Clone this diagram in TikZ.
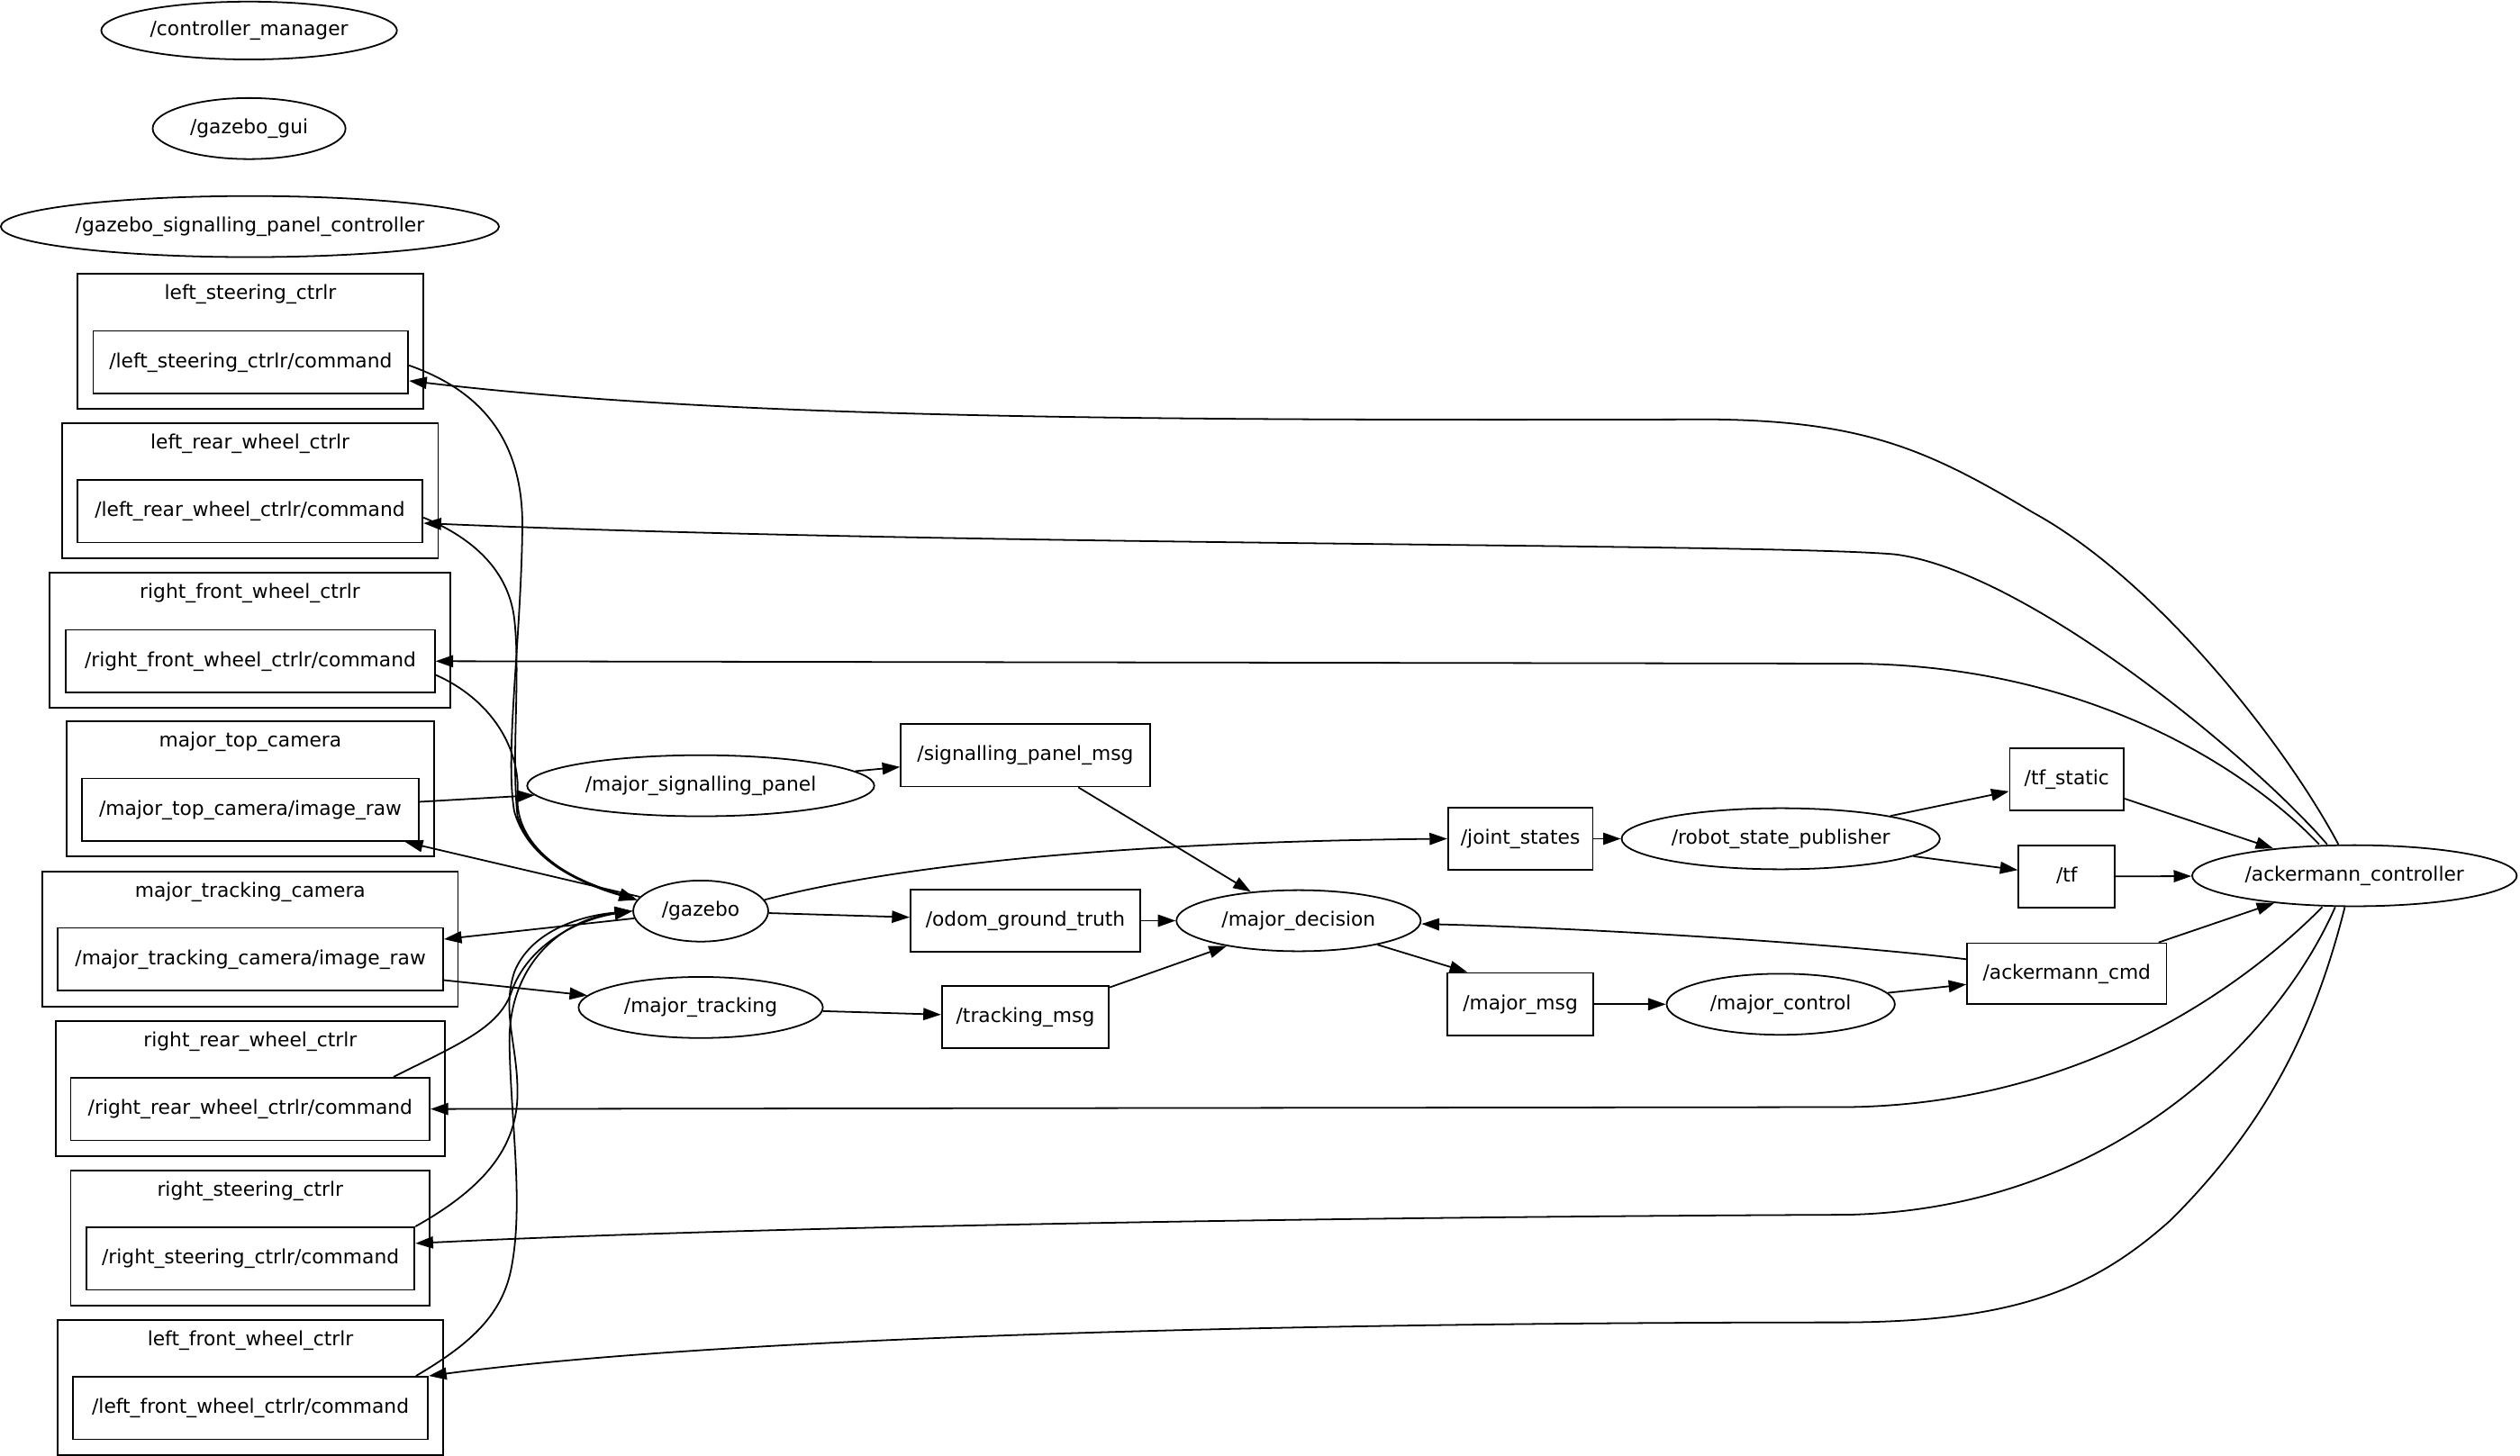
\documentclass[tikz,border=0pt]{standalone}
\usepackage{fontspec}
\setmainfont{DejaVu Sans}
\usepackage{tikz}
\usetikzlibrary{shapes, arrows.meta}
\tikzstyle{topic} = [rectangle, minimum height = 39, draw = black,
  line width = 1pt, inner sep = 0, text height = 9.3pt, text depth = 2.5pt,
  text centered]
\tikzstyle{rnode} = [
  ellipse, minimum height = 38, draw = black, line width = 1pt,
  inner sep = 0, text height = 9.3pt, text depth = 2.5pt
]
\tikzstyle{grp} = [rectangle, minimum height = 84, draw = black,
  line width = 1pt, inner sep = 0]
\tikzstyle{grplabel} = [anchor = north, inner sep = 0, yshift = -6.5pt,
  text height = 9.3pt, text depth = 2.5pt]

\begin{document}
\begin{tikzpicture}[x = 1pt, y = -1pt, line width = 1pt,
    >={Triangle[length = 11pt, width = 7.5pt]},
    font = \fontsize{12.2}{14}\selectfont]
    \useasboundingbox (0, 0) rectangle (1568, 906);
    \node [rnode, minimum width = 184, minimum height = 36] (ctrl-mgr) at (155, 19) {/controller\_manager};
    \node [rnode, minimum width = 120] (gz-gui) at (155, 80) {/gazebo\_gui};
    \node [rnode, minimum width = 310] (gz-spc) at (155.5, 141) {/gazebo\_signalling\_panel\_controller};
    \node [grp, minimum width = 215, label = {[grplabel]north:left\_steering\_ctrlr}] (grp-ls) at (155.8, 212.3) {};
    \node [topic, minimum width = 196] (cmd-ls) at (156, 225.4) {/left\_steering\_ctrlr/command};
    \node [grp, minimum width = 234, label = {[grplabel]north:left\_rear\_wheel\_ctrlr}] (grp-lr) at (155.6, 305.3) {};
    \node [topic, minimum width = 215] (cmd-lr) at (155.5, 318.1) {/left\_rear\_wheel\_ctrlr/command};
    \node [grp, minimum width = 249, label = {[grplabel]north:right\_front\_wheel\_ctrlr}] (grp-rf) at (155.5, 398.3) {};
    \node [topic, minimum width = 229.5] (cmd-rf) at (155.75, 411.5) {/right\_front\_wheel\_ctrlr/command};
    \node [grp, minimum width = 228.5, label = {[grplabel]north:major\_top\_camera}] (grp-mtc) at (155.75, 491) {};
    \node [topic, minimum width = 209.6] (cmd-mtc) at (155.8, 504) {/major\_top\_camera/image\_raw};
    \node [grp, minimum width = 258.6, label = {[grplabel]north:major\_tracking\_camera}] (grp-mtrc) at (155.7, 584.4) {};
    \node [topic, minimum width = 239.7] (cmd-mtrc) at (155.85, 597) {/major\_tracking\_camera/image\_raw};
    \node [grp, minimum width = 242, label = {[grplabel]north:right\_rear\_wheel\_ctrlr}] (grp-rr) at (155.7, 677.5) {};
    \node [topic, minimum width = 223.4] (cmd-rr) at (155.7, 690.2) {/right\_rear\_wheel\_ctrlr/command};
    \node [grp, minimum width = 223.4, label = {[grplabel]north:right\_steering\_ctrlr}] (grp-rs) at (155.7, 770.4) {};
    \node [topic, minimum width = 204.3] (cmd-rs) at (155.85, 783.3) {/right\_steering\_ctrlr/command};
    \node [grp, minimum width = 239.7, label = {[grplabel]north:left\_front\_wheel\_ctrlr}] (grp-lf) at (155.85, 863.5) {};
    \node [topic, minimum width = 221] (cmd-lf) at (155.85, 876.3) {/left\_front\_wheel\_ctrlr/command};
    \node [rnode, minimum width = 216] (sig-panel) at (436, 489) {/major\_signalling\_panel};
    \node [rnode, minimum width = 84] (gazebo) at (436, 567) {/gazebo};
    \node [rnode, minimum width = 152] (tracking) at (436, 627) {/major\_tracking};
    \node [topic, minimum width = 155] (sig-msg) at (638, 470) {/signalling\_panel\_msg};
    \node [topic, minimum width = 143] (odom) at (638, 573) {/odom\_ground\_truth};
    \node [topic, minimum width = 104] (track-msg) at (638, 633) {/tracking\_msg};
    \node [rnode, minimum width = 152] (decision) at (808, 573) {/major\_decision};
    \node [topic, minimum width = 90] (joints) at (946, 522) {/joint\_states};
    \node [topic, minimum width = 91] (major-msg) at (946, 625) {/major\_msg};
    \node [rnode, minimum width = 198] (rsp) at (1108, 522) {/robot\_state\_publisher};
    \node [rnode, minimum width = 142] (control) at (1108, 625) {/major\_control};
    \node [topic, minimum width = 71] (tf-static) at (1286, 485) {/tf\_static};
    \node [topic, minimum width = 60] (tf) at (1286, 545.5) {/tf};
    \node [topic, minimum width = 124, minimum height = 38] (ack-cmd) at (1286, 606) {/ackermann\_cmd};
    \node [rnode, minimum width = 202] (ack) at (1465, 545) {/ackermann\_controller};
    \draw [->] ([xshift = -10pt]ack.north) .. controls (1420, 460) and (1340, 360) .. (1265, 319)
      .. controls (1200, 280) and (1160, 262) .. (1065, 261)
      .. controls (700, 262) and (450, 260) .. ([yshift = -11.6pt]cmd-ls.east);
    \draw [->] ([xshift = -17pt]ack.north) .. controls (1400, 470) and (1260, 355) .. (1179, 345)
      .. controls (1100, 338) and (600, 340) .. ([yshift = -7.5pt]cmd-lr.east);
    \draw [->] ([xshift = -22pt]ack.north) .. controls (1400, 480) and (1300, 413) .. (1150, 413) -- (cmd-rf.east);
    \draw [->] ([xshift = -20pt]ack.south) .. controls (1400, 610) and (1300, 687) .. (1150, 689) -- (cmd-rr.east);
    \draw [->] ([xshift = -12pt]ack.south) .. controls (1420, 640) and (1320, 752) .. (1150, 756)
      .. controls (900, 757) and (500, 762) .. ([yshift = 9.5pt]cmd-rs.east);
    \draw [->] ([xshift = -6pt]ack.south) .. controls (1440, 640) and (1410, 700) .. (1351, 759)
      .. controls (1300, 805) and (1250, 822) .. (1150, 823)
      .. controls (800, 823) and (450, 832) .. (cmd-lf.north east);
    \draw [->] ([yshift = -2pt]cmd-ls.east) .. controls (305, 245) and (326, 280) .. (325, 330)
      .. controls (324, 400) and (314, 470) .. (320, 505)
      .. controls (330, 540) and (370, 552) .. (gazebo.170);
    \draw [->] ([yshift = -4pt]cmd-lr.east) .. controls (290, 333) and (316, 352) .. (320, 385)
      .. controls (324, 420) and (318, 470) .. (322, 508)
      .. controls (332, 540) and (372, 552) .. (gazebo.170);
    \draw [->] ([yshift = -8.5pt]cmd-rf.east) .. controls (305, 435) and (324, 465) .. (322, 495)
      .. controls (320, 530) and (360, 550) .. (gazebo.170);
    \draw [->] ([xshift = -23pt]cmd-rr.north east) .. controls (285, 650) and (310, 640) .. (318, 618)
      .. controls (328, 588) and (360, 572) .. (gazebo.west);
    \draw [->] (cmd-rs.north east) .. controls (300, 740) and (322, 715) .. (322, 680)
      .. controls (322, 650) and (312, 630) .. (320, 605)
      .. controls (330, 580) and (360, 570) .. (gazebo.west);
    \draw [->] ([xshift = -8pt]cmd-lf.north east) .. controls (290, 838) and (312, 820) .. (318, 790)
      .. controls (326, 750) and (318, 700) .. (317, 650)
      .. controls (316, 600) and (350, 572) .. (gazebo.west);
    \draw [->] ([yshift = 5pt]cmd-mtc.east) -- (sig-panel);
    \draw [->] (gazebo) -- ([xshift = -9pt]cmd-mtc.south east);
    \draw [->] (gazebo) -- ([yshift = 12.5pt]cmd-mtrc.east);
    \draw [->] ([yshift = -13pt]cmd-mtrc.east) -- (tracking);
    \draw [->] (sig-panel) -- (sig-msg);
    \draw [->] (sig-msg) -- (decision);
    \draw [->] (gazebo.10) .. controls (560, 538) and (700, 524) .. (joints.west);
    \draw [->] (gazebo) -- (odom);
    \draw [->] (odom) -- (decision);
    \draw [->] (tracking) -- (track-msg);
    \draw [->] (track-msg) -- (decision);
    \draw [->] (decision) -- ([xshift = -33pt]major-msg.north);
    \draw [->] (joints) -- (rsp);
    \draw [->] (rsp) -- (tf-static);
    \draw [->] (rsp) -- (tf);
    \draw [->] (tf-static) -- (ack);
    \draw [->] (tf) -- (ack);
    \draw [->] (ack-cmd) -- (ack);
    \draw [->] ([yshift = 9pt]ack-cmd.west) .. controls (1150, 588) and (1000, 578) .. ([yshift = -2pt]decision.east);
    \draw [->] (major-msg) -- (control);
    \draw [->] (control) -- (ack-cmd);
  \end{tikzpicture}
\end{document}
